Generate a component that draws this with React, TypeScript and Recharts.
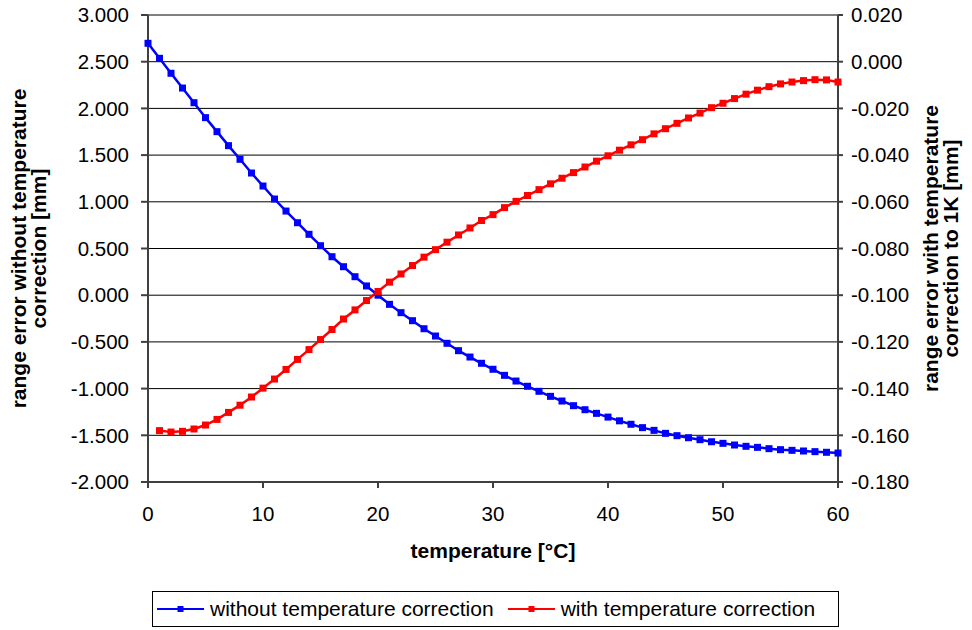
import { LineChart, Line, XAxis, YAxis, CartesianGrid } from "recharts"

const FONT = "'Liberation Sans', Arial, sans-serif"
const BLUE = "#0000ff"
const RED = "#ff0000"

const temperatures = [
  0, 1, 2, 3, 4, 5, 6, 7, 8, 9, 10, 11, 12, 13, 14, 15, 16, 17, 18, 19, 20, 21, 22, 23, 24, 25, 26, 27, 28, 29, 30,
  31, 32, 33, 34, 35, 36, 37, 38, 39, 40, 41, 42, 43, 44, 45, 46, 47, 48, 49, 50, 51, 52, 53, 54, 55, 56, 57, 58, 59, 60,
]

// range error without temperature correction [mm] (left axis)
const withoutCorrection = [
  2.697, 2.536, 2.376, 2.218, 2.061, 1.901, 1.751, 1.601, 1.455, 1.308, 1.169, 1.03, 0.901, 0.776, 0.652, 0.53,
  0.412, 0.305, 0.198, 0.099, 0.0, -0.098, -0.187, -0.273, -0.359, -0.437, -0.515, -0.594, -0.662, -0.729, -0.793,
  -0.858, -0.919, -0.975, -1.029, -1.083, -1.133, -1.183, -1.226, -1.265, -1.305, -1.345, -1.382, -1.418, -1.447,
  -1.479, -1.504, -1.526, -1.547, -1.569, -1.586, -1.604, -1.618, -1.629, -1.643, -1.654, -1.661, -1.668, -1.675,
  -1.682, -1.69,
]

// range error with temperature correction to 1K [mm] (right axis), no value at 0 °C
const withCorrection = [
  null, -0.158, -0.1586, -0.1583, -0.1573, -0.1556, -0.1532, -0.1502, -0.1471, -0.1436, -0.1398, -0.1359, -0.1318,
  -0.1275, -0.1233, -0.119, -0.1147, -0.1102, -0.1063, -0.1023, -0.0984, -0.0944, -0.0909, -0.0873, -0.0837,
  -0.0805, -0.0773, -0.0742, -0.0712, -0.068, -0.0655, -0.0625, -0.0598, -0.0573, -0.0548, -0.0523, -0.0499,
  -0.0475, -0.0451, -0.0426, -0.0403, -0.0379, -0.0356, -0.0334, -0.0309, -0.0287, -0.0264, -0.0241, -0.022,
  -0.0197, -0.0178, -0.0158, -0.0139, -0.0122, -0.0107, -0.0095, -0.0087, -0.0081, -0.0077, -0.0078, -0.0087,
]

const xTicks = [0, 10, 20, 30, 40, 50, 60]
const leftTicks = [-2, -1.5, -1, -0.5, 0, 0.5, 1, 1.5, 2, 2.5, 3]
const rightTicks = [-0.18, -0.16, -0.14, -0.12, -0.1, -0.08, -0.06, -0.04, -0.02, 0, 0.02]

const seriesNames = ["without temperature correction", "with temperature correction"]
const leftTitle = ["range error without temperature", "correction [mm]"]
const rightTitle = ["range error with temperature", "correction to 1K [mm]"]
const xTitle = "temperature [°C]"

const data = temperatures.map((t, i) => ({ t, a: withoutCorrection[i], b: withCorrection[i] }))

const SquareDot = (props: any) => {
  const { cx, cy, fill, index } = props
  if (cx == null || cy == null || Number.isNaN(cy)) return <g key={index} />
  return <rect key={index} x={cx - 3.5} y={cy - 3.5} width={7} height={7} fill={fill} />
}

// rotated two-line title, baselines given as x positions
const VerticalTitle = (props: any) => {
  const { viewBox, lines, baselines } = props
  const cy = viewBox.y + viewBox.height / 2
  return (
    <g>
      {lines.map((l: string, i: number) => (
        <text
          key={i}
          transform={`translate(${baselines[i]},${cy}) rotate(-90)`}
          textAnchor="middle"
          fontFamily={FONT}
          fontWeight="bold"
          fontSize={21}
          fill="#000"
        >
          {l}
        </text>
      ))}
    </g>
  )
}

const BottomTitle = (props: any) => {
  const { viewBox } = props
  return (
    <text
      x={viewBox.x + viewBox.width / 2}
      y={558}
      textAnchor="middle"
      fontFamily={FONT}
      fontWeight="bold"
      fontSize={21}
      fill="#000"
    >
      {xTitle}
    </text>
  )
}

const LegendItem = ({ color, label }: { color: string; label: string }) => (
  <div style={{ display: "flex", alignItems: "center" }}>
    <svg width={47} height={12} style={{ marginRight: 6 }}>
      <line x1={0} y1={6} x2={47} y2={6} stroke={color} strokeWidth={2} />
      <rect x={20.5} y={3} width={6} height={6} fill={color} />
    </svg>
    <span>{label}</span>
  </div>
)

export default function App() {
  return (
    <div style={{ position: "absolute", left: 0, top: 0, width: 972, height: 630, background: "#fff" }}>
      <LineChart width={972} height={630} data={data} margin={{ top: 15, right: 44, bottom: 108, left: 48 }}>
        <CartesianGrid yAxisId="left" vertical={false} stroke="#000" strokeWidth={1} />
        <XAxis
          dataKey="t"
          type="number"
          domain={[0, 60]}
          ticks={xTicks}
          height={40}
          tickSize={6}
          tickMargin={18}
          stroke="#404040"
          strokeWidth={2}
          tick={{ fill: "#000", fontSize: 20.5, fontFamily: FONT }}
          label={<BottomTitle />}
        />
        <YAxis
          yAxisId="left"
          domain={[-2, 3]}
          ticks={leftTicks}
          width={100}
          tickSize={7}
          tickMargin={12}
          stroke="#404040"
          strokeWidth={2}
          tickFormatter={(v: number) => v.toFixed(3)}
          tick={{ fill: "#000", fontSize: 20.5, fontFamily: FONT }}
          label={<VerticalTitle lines={leftTitle} baselines={[26, 46]} />}
        />
        <YAxis
          yAxisId="right"
          orientation="right"
          domain={[-0.18, 0.02]}
          ticks={rightTicks}
          width={90}
          tickSize={5}
          tickMargin={8}
          stroke="#404040"
          strokeWidth={2}
          tickFormatter={(v: number) => v.toFixed(3)}
          tick={{ fill: "#000", fontSize: 20.5, fontFamily: FONT }}
          label={<VerticalTitle lines={rightTitle} baselines={[938, 958]} />}
        />
        <Line
          yAxisId="left"
          dataKey="a"
          name={seriesNames[0]}
          stroke={BLUE}
          strokeWidth={2.5}
          dot={(p: any) => <SquareDot {...p} fill={BLUE} />}
          activeDot={false}
          isAnimationActive={false}
        />
        <Line
          yAxisId="right"
          dataKey="b"
          name={seriesNames[1]}
          stroke={RED}
          strokeWidth={2.5}
          dot={(p: any) => <SquareDot {...p} fill={RED} />}
          activeDot={false}
          isAnimationActive={false}
        />
      </LineChart>
      <div
        style={{
          position: "absolute",
          left: 152,
          top: 591,
          width: 681,
          height: 34,
          border: "1px solid #000",
          display: "flex",
          alignItems: "center",
          gap: 14,
          paddingLeft: 4,
          boxSizing: "content-box",
          fontFamily: FONT,
          fontSize: 21,
          color: "#000",
        }}
      >
        <LegendItem color={BLUE} label={seriesNames[0]} />
        <LegendItem color={RED} label={seriesNames[1]} />
      </div>
    </div>
  )
}
